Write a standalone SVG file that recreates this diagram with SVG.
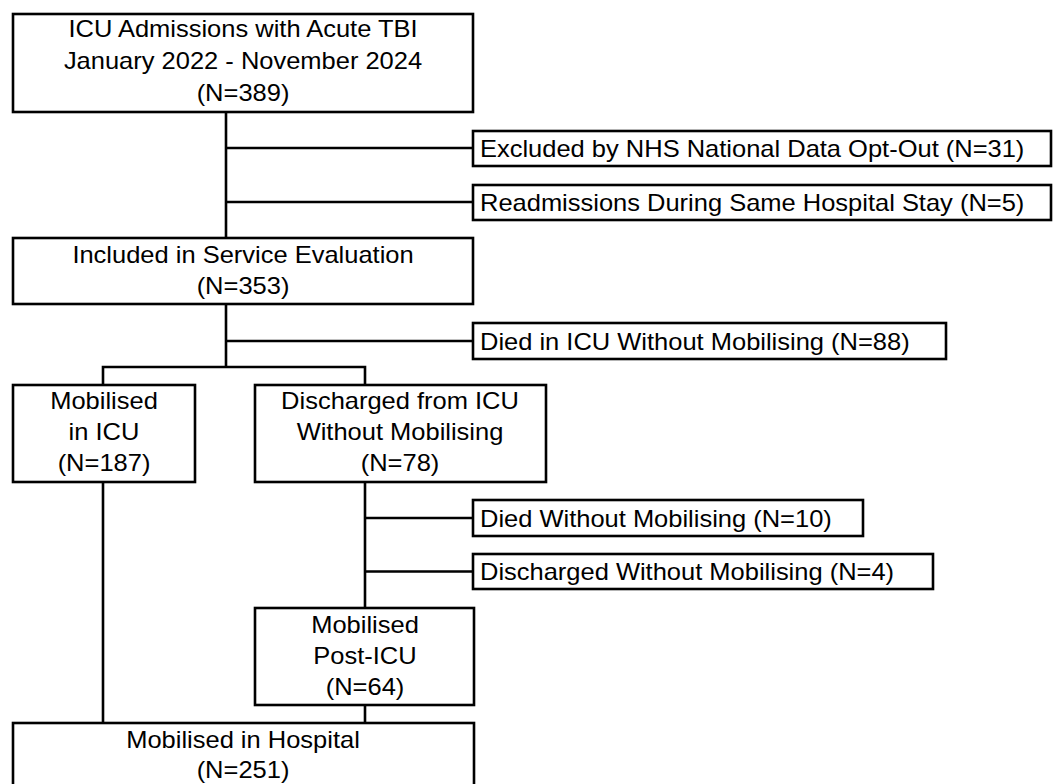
<svg xmlns="http://www.w3.org/2000/svg" width="1053" height="784" viewBox="0 0 1053 784">
<style>
  .box { fill: #ffffff; stroke: #000000; stroke-width: 2.6; }
  .ln { fill: none; stroke: #000000; stroke-width: 2.6; }
  text { font-family: "Liberation Sans", Arial, sans-serif; font-size: 23.6px; fill: #000000; }
  .c { text-anchor: middle; }
</style>
<rect width="1053" height="784" fill="#ffffff"/>
<g id="connectors">
  <path class="ln" d="M226 112 V238 M226 148 H473 M226 202 H473"/>
  <path class="ln" d="M226 304 V367 M226 341 H473 M103 385 V367 H365 V385"/>
  <path class="ln" d="M365 482 V608 M365 518 H473 M365 571.5 H473"/>
  <path class="ln" d="M365 705 V723 M103 482 V723"/>
</g>
<g id="n-admissions">
  <rect class="box" x="13" y="14" width="460" height="98"/>
  <text class="c" transform="translate(243 37) scale(1.08 1)">ICU Admissions with Acute TBI</text>
  <text class="c" transform="translate(243 69) scale(1.08 1)">January 2022 - November 2024</text>
  <text class="c" transform="translate(243 101) scale(1.08 1)">(N=389)</text>
</g>
<g id="n-excluded">
  <rect class="box" x="473" y="131" width="578" height="35"/>
  <text transform="translate(480 157) scale(1.08 1)">Excluded by NHS National Data Opt-Out (N=31)</text>
</g>
<g id="n-readmissions">
  <rect class="box" x="473" y="185" width="578" height="35"/>
  <text transform="translate(480 211) scale(1.08 1)">Readmissions During Same Hospital Stay (N=5)</text>
</g>
<g id="n-included">
  <rect class="box" x="13" y="238" width="460" height="66"/>
  <text class="c" transform="translate(243 263) scale(1.08 1)">Included in Service Evaluation</text>
  <text class="c" transform="translate(243 294) scale(1.08 1)">(N=353)</text>
</g>
<g id="n-died-icu">
  <rect class="box" x="473" y="323" width="473" height="36"/>
  <text transform="translate(480 350) scale(1.08 1)">Died in ICU Without Mobilising (N=88)</text>
</g>
<g id="n-mobilised-icu">
  <rect class="box" x="13" y="385" width="182" height="97"/>
  <text class="c" transform="translate(104 409) scale(1.08 1)">Mobilised</text>
  <text class="c" transform="translate(104 440) scale(1.08 1)">in ICU</text>
  <text class="c" transform="translate(104 471) scale(1.08 1)">(N=187)</text>
</g>
<g id="n-discharged-icu">
  <rect class="box" x="255" y="385" width="291" height="97"/>
  <text class="c" transform="translate(400 409) scale(1.08 1)">Discharged from ICU</text>
  <text class="c" transform="translate(400 440) scale(1.08 1)">Without Mobilising</text>
  <text class="c" transform="translate(400 471) scale(1.08 1)">(N=78)</text>
</g>
<g id="n-died">
  <rect class="box" x="473" y="500" width="390" height="36"/>
  <text transform="translate(480 527) scale(1.08 1)">Died Without Mobilising (N=10)</text>
</g>
<g id="n-discharged">
  <rect class="box" x="473" y="554" width="460" height="35"/>
  <text transform="translate(480 580) scale(1.08 1)">Discharged Without Mobilising (N=4)</text>
</g>
<g id="n-post-icu">
  <rect class="box" x="255" y="608" width="219" height="97"/>
  <text class="c" transform="translate(365 633) scale(1.08 1)">Mobilised</text>
  <text class="c" transform="translate(365 664) scale(1.08 1)">Post-ICU</text>
  <text class="c" transform="translate(365 695) scale(1.08 1)">(N=64)</text>
</g>
<g id="n-hospital">
  <rect class="box" x="13" y="723" width="461" height="100"/>
  <text class="c" transform="translate(243 748) scale(1.08 1)">Mobilised in Hospital</text>
  <text class="c" transform="translate(243 778) scale(1.08 1)">(N=251)</text>
</g>
</svg>
